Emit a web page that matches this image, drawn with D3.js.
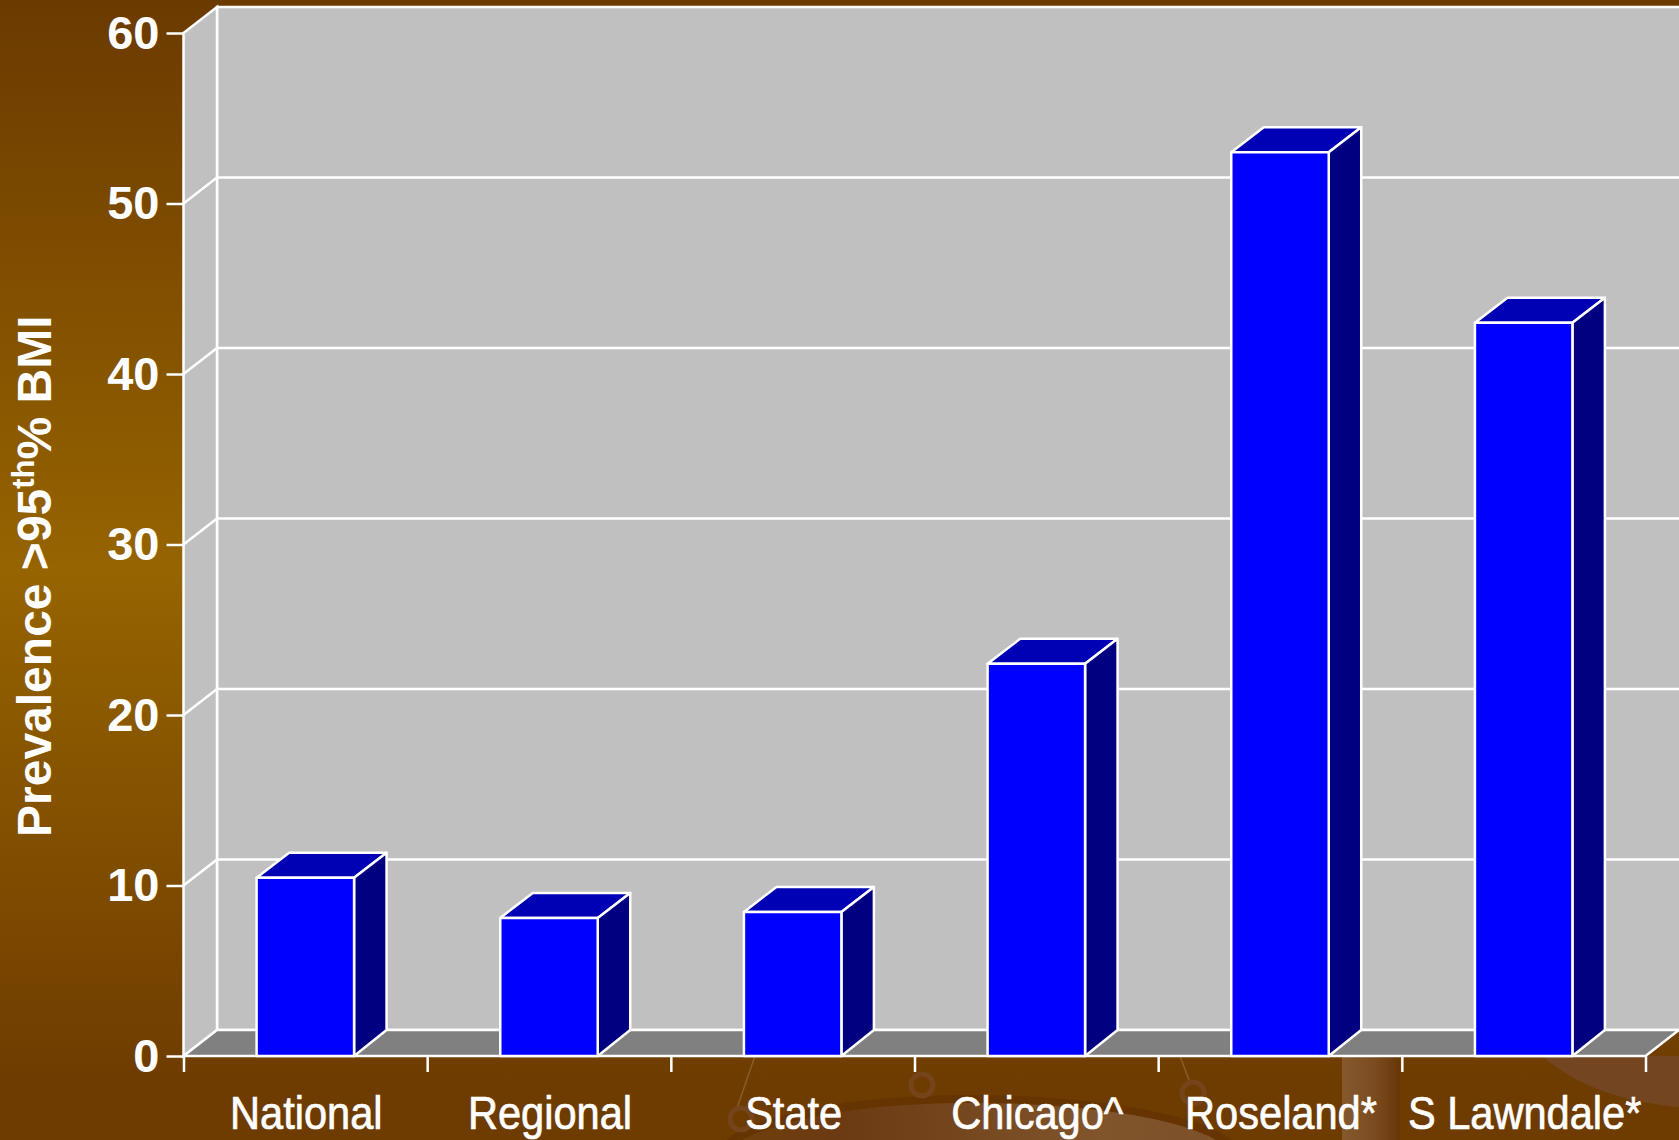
<!DOCTYPE html>
<html>
<head>
<meta charset="utf-8">
<script src="https://cdn.jsdelivr.net/npm/d3@7"></script>
<style>
  html, body { margin: 0; padding: 0; background: #6e3c00; overflow: hidden; }
  svg { display: block; }
  text { fill: #fff; font-family: "Liberation Sans", Arial, sans-serif; }
</style>
</head>
<body>
<svg id="chart" width="1679" height="1140"></svg>
<script>
const categories = ["National", "Regional", "State", "Chicago^", "Roseland*", "S Lawndale*"];
const prevalence = [10.45, 8.1, 8.45, 23, 53, 43];
const yTicks = [0, 10, 20, 30, 40, 50, 60];
const yTitle = ["Prevalence >95", "th", "% BMI"];

const width = 1679, height = 1140;
const plotLeft = 183.5, plotRight = 1645.5, plotBottom = 1056, plotTop = 33;
const depthX = 33.5, depthY = 26;       // walls
const barDepthX = 32.5, barDepthY = 25; // bars sit a bit inside the floor
const lineW = 2.5;

const svg = d3.select("#chart");
const y = d3.scaleLinear().domain([0, 60]).range([plotBottom, plotTop]);
const x = d3.scaleBand().domain(categories).range([plotLeft, plotRight]).paddingInner(0.6).paddingOuter(0.3);
const edges = d3.scaleLinear().domain([0, categories.length]).range([plotLeft, plotRight]);

// slide background
const defs = svg.append("defs");
const bg = defs.append("linearGradient").attr("id", "bg").attr("x1", 0).attr("x2", 0).attr("y1", 0).attr("y2", 1);
[[0, "#6b3a00"], [0.5, "#966400"], [0.95, "#6e3c00"], [1, "#6e3c00"]].forEach(s => bg.append("stop").attr("offset", s[0]).attr("stop-color", s[1]));
const bowl = defs.append("linearGradient").attr("id", "bowl");
[[0, "#6f3f0c"], [0.2, "#6b3a12"], [0.75, "#80552c"], [1, "#7c5028"]].forEach(s => bowl.append("stop").attr("offset", s[0]).attr("stop-color", s[1]));
const strip = defs.append("linearGradient").attr("id", "strip");
[[0, "#85592e"], [0.6, "#7a4a1e"], [1, "#683606"]].forEach(s => strip.append("stop").attr("offset", s[0]).attr("stop-color", s[1]));

svg.append("rect").attr("width", width).attr("height", height).attr("fill", "url(#bg)");

const deco = svg.append("g");
deco.append("path").attr("d", "M726,1140C760,1112 860,1096 960,1095C1060,1094 1190,1108 1232,1140Z").attr("fill", "#653400");
deco.append("path").attr("d", "M742,1140C790,1116 870,1104 960,1103C1060,1102 1170,1114 1216,1140Z").attr("fill", "url(#bowl)");
deco.append("rect").attr("x", 1342).attr("y", 1056).attr("width", 58).attr("height", 84).attr("fill", "url(#strip)");
deco.append("path").attr("d", "M1542,1056C1580,1088 1625,1102 1679,1107V1056Z").attr("fill", "#744521");
[[755, 1056, 737, 1108], [1180, 1056, 1189, 1080]].forEach(r =>
  deco.append("line").attr("x1", r[0]).attr("y1", r[1]).attr("x2", r[2]).attr("y2", r[3]).attr("stroke", "#8a5c2c").attr("stroke-width", 1.5));
[[741, 1119, 11], [922, 1085, 11], [1193, 1093, 11]].forEach(r =>
  deco.append("circle").attr("cx", r[0]).attr("cy", r[1]).attr("r", r[2]).attr("fill", "none").attr("stroke", "#76441a").attr("stroke-width", 5));

// walls and floor
const chart = svg.append("g");
const line = d3.line();
const poly = (pts, fill) => chart.append("path").attr("d", line(pts) + "Z")
  .attr("fill", fill).attr("stroke", "#fff").attr("stroke-width", lineW).attr("stroke-linejoin", "miter");

poly([[plotLeft + depthX, y(60) - depthY], [width + 5, y(60) - depthY], [width + 5, plotBottom - depthY], [plotLeft + depthX, plotBottom - depthY]], "#c0c0c0");
poly([[plotLeft, y(60)], [plotLeft + depthX, y(60) - depthY], [plotLeft + depthX, plotBottom - depthY], [plotLeft, plotBottom]], "#c0c0c0");
poly([[plotLeft, plotBottom], [plotLeft + depthX, plotBottom - depthY], [plotRight + depthX, plotBottom - depthY], [plotRight, plotBottom]], "#808080");

// gridlines run up the side wall and across the back
chart.append("g").selectAll("path").data(yTicks.slice(1, -1)).join("path")
  .attr("d", d => line([[plotLeft, y(d)], [plotLeft + depthX, y(d) - depthY], [width + 5, y(d) - depthY]]))
  .attr("fill", "none").attr("stroke", "#fff").attr("stroke-width", lineW);

// axes
const yAxis = svg.append("g").attr("transform", `translate(${plotLeft},0)`)
  .call(d3.axisLeft(y).tickValues(yTicks).tickSize(17).tickPadding(7).tickFormat(d3.format("d")));
yAxis.select(".domain").remove();
yAxis.selectAll("line").attr("stroke", "#fff").attr("stroke-width", lineW);
yAxis.selectAll("text").attr("font-size", 47).attr("font-weight", "bold").attr("fill", "#fff").attr("font-family", '"Liberation Sans"');

const xAxis = svg.append("g").attr("transform", `translate(0,${plotBottom})`)
  .call(d3.axisBottom(edges).tickValues(d3.range(categories.length + 1)).tickSize(16).tickFormat(""));
xAxis.select(".domain").remove();
xAxis.selectAll("line").attr("stroke", "#fff").attr("stroke-width", lineW);

// bars
const bars = svg.append("g").selectAll("g").data(categories).join("g");
bars.each(function(c, i) {
  const g = d3.select(this);
  const x0 = x(c), x1 = x0 + x.bandwidth(), yv = y(prevalence[i]);
  const face = (pts, fill) => g.append("path").attr("d", line(pts) + "Z")
    .attr("fill", fill).attr("stroke", "#fff").attr("stroke-width", lineW).attr("stroke-linejoin", "round");
  face([[x0, yv], [x0 + barDepthX, yv - barDepthY], [x1 + barDepthX, yv - barDepthY], [x1, yv]], "#0000b4");
  face([[x1, yv], [x1 + barDepthX, yv - barDepthY], [x1 + barDepthX, plotBottom - depthY], [x1, plotBottom]], "#000080");
  face([[x0, yv], [x1, yv], [x1, plotBottom], [x0, plotBottom]], "#0000ff");
});

// category labels, no narrow face installed so squeeze the regular one
svg.append("g").selectAll("text").data(categories).join("text")
  .attr("transform", d => `translate(${x(d) + x.bandwidth() / 2 + 1},1129) scale(0.885,1)`)
  .attr("text-anchor", "middle")
  .attr("font-size", 47)
  .attr("stroke", "#fff").attr("stroke-width", 0.7)
  .text(d => d);

// axis title
const title = svg.append("text")
  .attr("transform", "translate(51,837) rotate(-90)")
  .attr("font-size", 48).attr("font-weight", "bold");
title.append("tspan").text(yTitle[0]);
title.append("tspan").text(yTitle[1]).attr("font-size", 31).attr("dy", -17);
title.append("tspan").text(yTitle[2]).attr("dy", 17);
</script>
</body>
</html>
